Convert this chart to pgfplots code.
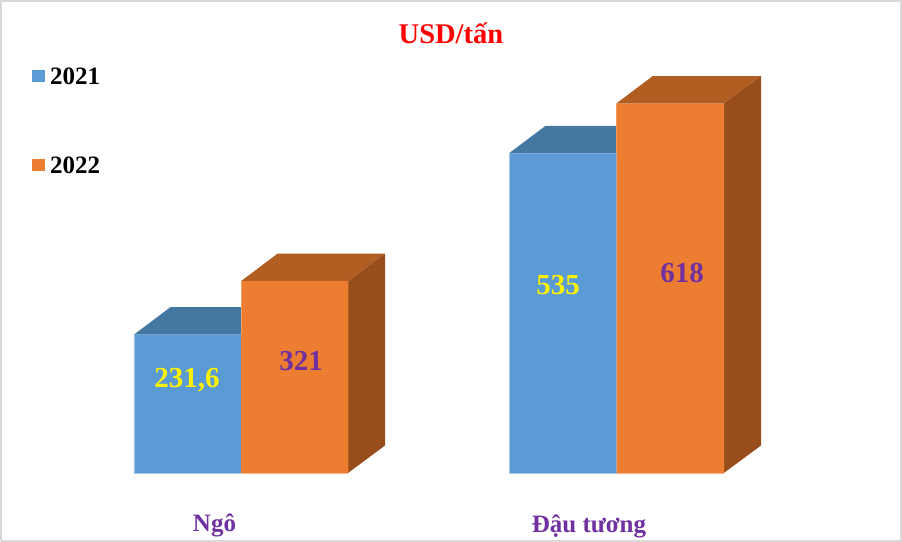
\documentclass[border=0pt]{standalone}
\usepackage{pgfplots}
\usepackage{fontspec}
\setmainfont{Liberation Serif}
\pgfplotsset{compat=1.18}
\definecolor{blueF}{HTML}{5B9BD5}
\definecolor{blueT}{HTML}{4577A3}
\definecolor{orangeF}{HTML}{ED7D31}
\definecolor{orangeT}{HTML}{B25D22}
\definecolor{orangeS}{HTML}{974E1B}
\definecolor{purpleL}{HTML}{7030A0}
\definecolor{frameC}{HTML}{D9D9D9}
\newcommand{\bt}[1]{\fontsize{#1}{#1}\selectfont\bfseries}
\begin{document}
\begin{tikzpicture}
\begin{axis}[scale only axis, width=902pt, height=542pt,
  xmin=0, xmax=902, ymin=-115.5, ymax=791.6,
  axis line style={draw=none}, ticks=none, clip=false,
  legend image code/.code={\fill[#1] (0pt,-6pt) rectangle (13pt,6pt);},
  legend style={at={(axis cs:32,678.3)}, anchor=north west, draw=none, fill=none,
    inner sep=0pt, font=\bt{25}, row sep=72pt, column sep=5pt,
    nodes={inner sep=0pt, text height=17pt, text depth=0pt}},
  legend cell align=left]
% frame
\addplot[frameC, line width=2pt, forget plot] coordinates {(1,-113.8) (901,-113.8)
  (901,789.9) (1,789.9) (1,-113.8)};
% blue tops, behind the fronts
\addplot[draw=none, fill=blueT, forget plot] coordinates {(134,231.6) (170.5,277.6)
  (277.5,277.6) (241,231.6)} -- cycle;
\addplot[draw=none, fill=blueT, forget plot] coordinates {(509,535) (545.5,581)
  (652.5,581) (616,535)} -- cycle;
% blue fronts
\addplot[ybar, bar width=107.4pt, bar shift=0pt, draw=none, fill=blueF]
  coordinates {(187.5,231.6) (562.9,535)};
\addlegendentry{2021}
% orange tops and sides
\addplot[draw=none, fill=orangeT, forget plot] coordinates {(241,321) (277.5,367)
  (385,367) (348,321)} -- cycle;
\addplot[draw=none, fill=orangeS, forget plot] coordinates {(348,0) (385,46)
  (385,367) (348,321)} -- cycle;
\addplot[draw=none, fill=orangeT, forget plot] coordinates {(616,618) (652.5,664)
  (761,664) (724,618)} -- cycle;
\addplot[draw=none, fill=orangeS, forget plot] coordinates {(723.8,0) (761,46)
  (761,664) (723.8,618)} -- cycle;
% orange fronts
\addplot[ybar, bar width=107.4pt, bar shift=0pt, draw=none, fill=orangeF]
  coordinates {(294.7,321) (670.3,618)};
\addlegendentry{2022}
% pale edges of the fronts
\addplot[blueF!55!white, line width=0.8pt, forget plot] coordinates {(134,231.6) (134,0) (241,0)};
\addplot[orangeF!55!white, line width=0.8pt, forget plot] coordinates {(241,0) (348,0)};
\addplot[blueF!55!white, line width=0.8pt, forget plot] coordinates {(509,535) (509,0) (616.6,0)};
\addplot[orangeF!55!white, line width=0.8pt, forget plot] coordinates {(616.6,0) (724,0)};
\addplot[orangeF!75!white, line width=0.5pt, forget plot] coordinates {(241,231.6) (241,321)};
\addplot[orangeF!75!white, line width=0.5pt, forget plot] coordinates {(616.6,535) (616.6,618)};
% texts
\node[anchor=base, text=red] at (axis cs:451,718.5) {\bt{28.5}USD/tấn};
\node[anchor=base, text=yellow] at (axis cs:187,142.3) {\bt{29}231,6};
\node[anchor=base, text=purpleL] at (axis cs:301,170.8) {\bt{29}321};
\node[anchor=base, text=yellow] at (axis cs:558,297.9) {\bt{29}535};
\node[anchor=base, text=purpleL] at (axis cs:682,318) {\bt{29}618};
\node[anchor=base, text=purpleL] at (axis cs:214.5,-97.8) {\bt{25}Ngô};
\node[anchor=base, text=purpleL] at (axis cs:589,-100) {\bt{25}Đậu tương};
\end{axis}
\end{tikzpicture}
\end{document}
